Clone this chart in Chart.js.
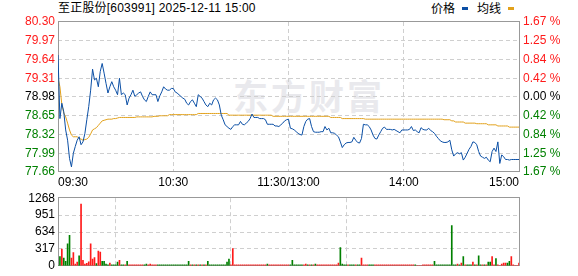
<!DOCTYPE html>
<html><head><meta charset="utf-8">
<script src="https://cdn.jsdelivr.net/npm/chart.js@4/dist/chart.umd.min.js"></script>
<style>
html,body{margin:0;padding:0;background:#fff;}
#wrap{position:relative;width:578px;height:276px;overflow:hidden;font-family:"Liberation Sans","Noto Sans CJK SC",sans-serif;}
#title{position:absolute;left:58px;top:1px;font-size:12px;line-height:14px;color:#000;white-space:pre;letter-spacing:0.2px;}
.lg{position:absolute;top:1px;font-size:12px;line-height:14px;color:#000;font-family:"Noto Sans CJK SC",sans-serif;}
.mk{position:absolute;top:7px;width:6px;height:3px;}
#wm{position:absolute;left:233px;top:73px;font-size:35px;font-weight:bold;color:#e9e9ed;letter-spacing:3px;font-family:"Noto Sans CJK SC",sans-serif;line-height:44px;white-space:pre;}
#c1{position:absolute;left:0;top:0;}
#c2{position:absolute;left:0;top:188px;}
</style></head>
<body><div id="wrap">
<div id="wm"></div>
<div id="title"></div>
<div class="lg" id="lg1" style="left:431px"></div><div class="mk" style="left:462px;background:#0b4fa5"></div>
<div class="lg" id="lg2" style="left:477px"></div><div class="mk" style="left:508px;background:#e2a11b"></div>
<canvas id="c1" width="578" height="190" style="width:578px;height:190px"></canvas>
<canvas id="c2" width="578" height="88" style="width:578px;height:88px"></canvas>
</div>
<script>
const stockName = '至正股份';
const stockCode = '603991';
const stampText = '2025-12-11 15:00';
const seriesNames = ['价格', '均线'];
const watermark = '东方财富';

const timeLabels = ['09:30', '10:30', '11:30/13:00', '14:00', '15:00'];
const tickMinutes = [0, 60, 120, 180, 240];
const priceTicks = [77.66, 77.99, 78.32, 78.65, 78.98, 79.31, 79.64, 79.97, 80.30];
const pctTicks = ['1.67 %', '1.25 %', '0.84 %', '0.42 %', '0.00 %', '0.42 %', '0.84 %', '1.25 %', '1.67 %'];
const volTicks = [0, 317, 634, 951, 1268];

const price = [
79.72,78.60,78.87,78.72,78.40,78.22,77.90,77.75,77.99,78.11,
78.22,78.28,78.14,78.19,78.34,78.58,78.81,79.10,79.47,79.28,
79.31,79.16,79.43,79.57,79.40,79.22,79.05,79.16,79.25,79.16,
79.10,79.02,79.31,79.02,79.05,79.02,78.84,78.96,79.02,79.10,
78.99,79.02,79.05,79.07,78.99,78.93,78.90,78.99,79.07,79.02,
79.02,79.02,78.90,79.00,79.07,79.16,79.12,79.10,79.10,79.13,
79.13,79.07,79.05,79.02,78.99,78.96,78.94,78.87,78.84,78.90,
78.93,78.87,78.81,79.02,78.99,78.96,78.90,78.84,78.81,78.87,
78.84,78.93,78.96,78.93,78.84,78.66,78.58,78.49,78.46,78.43,
78.41,78.46,78.49,78.49,78.49,78.55,78.50,78.49,78.52,78.55,
78.60,78.68,78.62,78.62,78.62,78.60,78.60,78.60,78.58,78.50,
78.50,78.50,78.50,78.47,78.47,78.46,78.49,78.52,78.56,78.58,
78.59,78.43,78.42,78.40,78.37,78.34,78.32,78.31,78.46,78.55,
78.59,78.60,78.46,78.37,78.36,78.36,78.36,78.37,78.37,78.46,
78.40,78.43,78.35,78.35,78.34,78.31,78.28,78.19,78.09,78.14,
78.17,78.18,78.18,78.19,78.27,78.22,78.18,78.17,78.25,78.50,
78.49,78.49,78.46,78.40,78.31,78.25,78.24,78.31,78.37,78.43,
78.45,78.41,78.41,78.41,78.40,78.41,78.39,78.37,78.35,78.40,
78.40,78.40,78.40,78.41,78.46,78.39,78.40,78.37,78.35,78.44,
78.41,78.40,78.40,78.43,78.39,78.37,78.34,78.29,78.25,78.21,
78.19,78.18,78.18,78.19,78.22,78.05,77.94,77.98,78.00,77.98,
78.00,77.87,77.92,77.99,78.06,78.11,78.19,78.18,78.14,78.02,
77.94,77.92,77.90,77.92,77.87,77.84,78.02,78.08,78.02,78.19,
77.81,77.96,77.93,77.88,77.88,77.87,77.88,77.88,77.88,77.88,
77.88];

const avgPrice = [
79.31,79.16,78.85,78.70,78.63,78.52,78.40,78.31,78.28,78.28,
78.28,78.25,78.24,78.22,78.23,78.24,78.27,78.33,78.40,78.42,
78.44,78.48,78.52,78.56,78.57,78.58,78.59,78.59,78.59,78.60,
78.60,78.61,78.62,78.62,78.62,78.62,78.62,78.62,78.62,78.62,
78.62,78.63,78.63,78.63,78.63,78.63,78.63,78.63,78.63,78.63,
78.64,78.64,78.64,78.65,78.65,78.65,78.65,78.65,78.67,78.67,
78.67,78.67,78.67,78.67,78.67,78.67,78.67,78.67,78.67,78.67,
78.67,78.67,78.67,78.69,78.69,78.69,78.69,78.69,78.69,78.69,
78.69,78.69,78.69,78.69,78.69,78.69,78.69,78.69,78.69,78.66,
78.66,78.66,78.66,78.66,78.66,78.66,78.66,78.66,78.66,78.66,
78.66,78.66,78.66,78.66,78.66,78.66,78.66,78.66,78.66,78.66,
78.66,78.66,78.64,78.64,78.64,78.64,78.64,78.64,78.64,78.64,
78.64,78.64,78.64,78.64,78.64,78.64,78.64,78.64,78.64,78.64,
78.64,78.64,78.64,78.64,78.64,78.64,78.64,78.64,78.64,78.64,
78.64,78.64,78.62,78.62,78.62,78.62,78.62,78.62,78.60,78.60,
78.60,78.60,78.60,78.60,78.60,78.60,78.60,78.60,78.60,78.60,
78.59,78.59,78.59,78.59,78.59,78.59,78.59,78.59,78.59,78.59,
78.59,78.59,78.59,78.59,78.59,78.59,78.59,78.59,78.59,78.59,
78.59,78.59,78.59,78.59,78.59,78.59,78.59,78.59,78.59,78.59,
78.59,78.59,78.59,78.59,78.59,78.59,78.59,78.59,78.59,78.59,
78.59,78.58,78.58,78.58,78.58,78.56,78.56,78.54,78.54,78.54,
78.54,78.54,78.52,78.52,78.52,78.52,78.52,78.52,78.51,78.51,
78.51,78.51,78.51,78.51,78.49,78.49,78.49,78.49,78.49,78.47,
78.47,78.47,78.47,78.47,78.47,78.45,78.45,78.45,78.45,78.45,
78.45];

const volume = [
0,171,314,143,86,411,571,143,246,30,
68,188,1158,103,30,46,74,411,125,154,
40,274,257,86,86,30,18,50,18,18,
18,68,103,18,18,18,86,18,18,18,
18,18,18,18,18,18,34,18,34,18,
18,18,18,18,18,18,18,18,18,18,
18,18,18,18,18,18,18,18,86,18,
18,18,18,18,18,18,18,18,86,18,
18,18,18,18,18,18,18,18,68,125,
18,325,18,18,18,18,18,18,18,18,
18,18,18,18,18,18,18,18,18,34,
18,18,18,18,18,18,18,18,18,18,
18,18,103,18,18,18,18,18,18,34,
18,18,18,18,34,18,18,18,18,18,
18,18,18,18,18,18,50,342,34,18,
18,18,18,18,18,18,18,18,143,18,
18,18,18,18,18,18,18,18,18,18,
18,18,18,18,18,18,18,18,18,18,
18,18,18,18,18,18,18,0,0,0,
18,18,18,18,18,18,86,18,18,18,
18,18,18,18,18,753,18,18,34,18,
50,171,18,18,18,18,68,18,18,188,
18,18,18,18,68,68,171,18,137,18,
0,34,50,50,50,86,171,18,0,0,
50];

// 1 = price up (red bar), 0 = price down (green bar)
const volUp = [
0,0,1,0,0,0,0,1,1,1,
1,0,1,1,1,1,1,1,1,1,
0,1,1,0,0,0,0,1,0,0,
0,0,1,0,0,1,0,1,1,1,
1,1,1,1,1,0,0,1,1,1,
1,1,0,0,0,0,0,0,0,0,
0,0,0,0,0,0,0,0,0,1,
0,1,0,1,0,1,0,1,0,0,
0,0,0,0,0,0,0,0,0,0,
1,1,1,1,1,1,1,1,1,1,
1,1,1,1,1,1,1,1,1,0,
1,1,1,1,1,1,1,1,1,1,
1,0,0,0,0,0,0,0,1,1,
0,1,0,1,0,1,1,1,1,1,
1,1,1,1,1,1,1,0,0,0,
0,1,0,0,0,1,0,0,1,1,
1,1,0,0,0,1,1,1,1,1,
1,1,1,1,1,1,1,1,1,1,
1,1,1,1,1,1,0,1,1,1,
1,1,1,1,1,1,0,0,0,0,
0,0,0,0,0,0,0,0,1,0,
1,0,1,0,0,0,1,0,1,0,
0,1,0,1,0,0,1,1,0,1,
1,1,1,1,0,0,1,1,1,1,
1];

// ---- text ----
document.getElementById('title').textContent = stockName + '[' + stockCode + '] ' + stampText;
document.getElementById('lg1').textContent = seriesNames[0];
document.getElementById('lg2').textContent = seriesNames[1];
document.getElementById('wm').textContent = watermark;

const FONT = '"Liberation Sans", Arial, sans-serif';
const RED = '#ff1a1a', GREEN = '#008000', BLACK = '#000000';
const GRID = '#cfcfcf', FRAME = '#999999';
const BLUE = '#0b4fa5', GOLD = '#e2a11b';

const framePlugin = {
  id: 'frame',
  beforeDatasetsDraw(chart) {
    const {ctx, chartArea: a} = chart;
    ctx.save();
    ctx.strokeStyle = FRAME;
    ctx.lineWidth = 1;
    ctx.strokeRect(Math.round(a.left) + 0.5, Math.round(a.top) - 0.5, Math.round(a.right - a.left), Math.round(a.bottom - a.top));
    ctx.restore();
  }
};

const sideColor = (c) => c.index < 4 ? GREEN : (c.index === 4 ? BLACK : RED);
const xGridColor = (c) => (c.index === 0 || c.index === tickMinutes.length - 1) ? 'rgba(0,0,0,0)' : GRID;

const xScale = (showLabels, h) => ({
  type: 'linear', min: 0, max: 240, offset: false,
  afterBuildTicks: s => { s.ticks = tickMinutes.map(v => ({value: v})); },
  afterFit: s => { s.height = h; },
  grid: {color: xGridColor, drawTicks: false, lineWidth: 1},
  border: {display: false, dash: [4, 3]},
  ticks: {display: showLabels, autoSkip: false, maxRotation: 0, minRotation: 0, align: 'inner', padding: 3,
          color: BLACK, font: {size: 12, family: FONT}, callback: (v, i) => timeLabels[i]}
});

Chart.defaults.font.family = FONT;

new Chart(document.getElementById('c1'), {
  type: 'line',
  data: {datasets: [
    {data: price.map((v, i) => ({x: i, y: v})), borderColor: BLUE, borderWidth: 1, pointRadius: 0, tension: 0, yAxisID: 'y', order: 1},
    {data: avgPrice.map((v, i) => ({x: i, y: v})), borderColor: GOLD, borderWidth: 1, pointRadius: 0, tension: 0, yAxisID: 'y', order: 2}
  ]},
  options: {
    responsive: false, animation: false, devicePixelRatio: 1,
    layout: {padding: {top: 22, left: 0, right: 0, bottom: 0}},
    plugins: {legend: {display: false}, tooltip: {enabled: false}},
    scales: {
      x: xScale(true, 18),
      y: {
        position: 'left', min: priceTicks[0], max: priceTicks[priceTicks.length - 1],
        afterBuildTicks: s => { s.ticks = priceTicks.map(v => ({value: v})); },
        afterFit: s => { s.width = 58; },
        grid: {color: (c) => (c.index === 0 || c.index === priceTicks.length - 1) ? 'rgba(0,0,0,0)' : GRID, drawTicks: false},
        border: {display: false, dash: [4, 3]},
        ticks: {padding: 3, color: sideColor, font: {size: 12, family: FONT}, callback: (v, i) => priceTicks[i].toFixed(2)}
      },
      y2: {
        position: 'right', min: priceTicks[0], max: priceTicks[priceTicks.length - 1],
        afterBuildTicks: s => { s.ticks = priceTicks.map(v => ({value: v})); },
        afterFit: s => { s.width = 59; },
        grid: {drawOnChartArea: false, drawTicks: false},
        border: {display: false},
        ticks: {padding: 4, color: sideColor, font: {size: 12, family: FONT}, callback: (v, i) => pctTicks[pctTicks.length - 1 - i]}
      }
    }
  },
  plugins: [framePlugin]
});

new Chart(document.getElementById('c2'), {
  type: 'bar',
  data: {datasets: [{
    data: volume.map((v, i) => ({x: i, y: v})),
    backgroundColor: volUp.map(u => u ? RED : GREEN),
    barThickness: 1, borderWidth: 0, grouped: false
  }]},
  options: {
    responsive: false, animation: false, devicePixelRatio: 1,
    layout: {padding: {top: 8, left: 0, right: 59, bottom: 0}},
    plugins: {legend: {display: false}, tooltip: {enabled: false}},
    scales: {
      x: xScale(false, 6),
      y: {
        position: 'left', min: 0, max: volTicks[volTicks.length - 1],
        afterBuildTicks: s => { s.ticks = volTicks.map(v => ({value: v})); },
        afterFit: s => { s.width = 58; },
        grid: {color: (c) => (c.index === 0 || c.index === volTicks.length - 1) ? 'rgba(0,0,0,0)' : GRID, drawTicks: false},
        border: {display: false, dash: [4, 3]},
        ticks: {padding: 3, color: BLACK, font: {size: 12, family: FONT}, callback: (v, i) => String(volTicks[i])}
      }
    }
  },
  plugins: [framePlugin]
});
</script>
</body></html>
